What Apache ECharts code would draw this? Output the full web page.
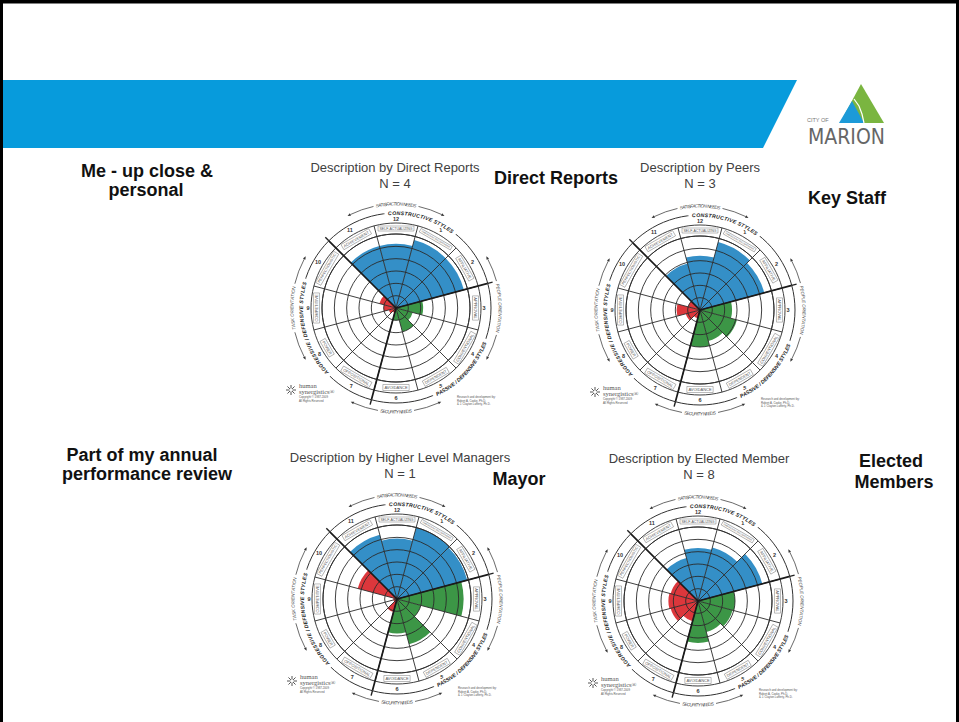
<!DOCTYPE html>
<html><head><meta charset="utf-8">
<script src="https://cdn.jsdelivr.net/npm/echarts@6/dist/echarts.min.js"></script>
<style>html,body{margin:0;padding:0;background:#fff}#c{width:959px;height:722px}</style>
</head><body><div id="c"></div>
<script>
// ---------- data ----------
const styleNumbers = ['12','1','2','3','4','5','6','7','8','9','10','11'];
const styleNames = ['SELF-ACTUALIZING','HUMANISTIC-ENCOURAGING','AFFILIATIVE','APPROVAL','CONVENTIONAL','DEPENDENT','AVOIDANCE','OPPOSITIONAL','POWER','COMPETITIVE','PERFECTIONISTIC','ACHIEVEMENT'];
const clusterNames = ['Constructive','Passive/Defensive','Aggressive/Defensive'];
const clusterLabels = ['CONSTRUCTIVE STYLES','PASSIVE / DEFENSIVE STYLES','AGGRESSIVE / DEFENSIVE STYLES'];
const needsLabels = ['SATISFACTION NEEDS','PEOPLE ORIENTATION','SECURITY NEEDS','TASK ORIENTATION'];
// values in ring units (0-6), ordered as styleNumbers
const directReports  = [5.2, 5.7, 5.7, 2.2, 1.4, 2.0, 1.0, 0.4, 0.6, 1.0, 1.4, 5.2];
const peers          = [4.4, 5.7, 5.4, 2.6, 3.1, 2.6, 3.0, 0.7, 1.2, 1.9, 1.0, 3.9];
const higherManagers = [4.9, 6.0, 5.9, 5.4, 2.0, 3.8, 2.8, 1.1, 0.3, 0.3, 3.3, 5.4];
const electedMembers = [4.3, 4.5, 5.4, 3.0, 2.9, 2.6, 3.4, 1.7, 2.3, 2.4, 2.3, 3.6];
const chartTitles = ['Description by Direct Reports','Description by Peers','Description by Higher Level Managers','Description by Elected Member'];
const chartN = ['N = 4','N = 3','N = 1','N = 8'];
const slideLabels = ['Me - up close &','personal','Direct Reports','Key Staff','Part of my annual','performance review','Mayor','Elected','Members'];

// ---------- layout / style ----------
const seriesValues = [directReports, peers, higherManagers, electedMembers];
const centers = [[396,308],[700,310],[397,599],[698,601]];
const titlePos = [[395,167],[700,167],[400,457],[699,458]];
const labelPos = [[147,171],[146,190],[556,178],[847,198],[142,455],[147,474],[519,479],[891,461],[894,482]];
const R_DATA = 74, R_LABEL = 85, R_OUT = 95;
const BLUE = '#348fc7', GREEN = '#3c9646', RED = '#dc373c';
const colorOf = i => (i <= 2 || i === 11) ? BLUE : (i <= 6 ? GREEN : RED);
const LINE = '#2a2a2a';

const mctx = document.createElement('canvas').getContext('2d');
function cssFont(f){ return (f.style||'normal')+' '+(f.weight||'normal')+' '+f.size+'px '+f.family; }
function curvedText(children, cx, cy, r, text, centerDeg, spanDeg, f, fill, inward){
  mctx.font = cssFont(f);
  const chars = [...text];
  const widths = chars.map(c => mctx.measureText(c).width);
  const total = widths.reduce((a,b)=>a+b,0);
  const scale = (spanDeg*Math.PI/180*r)/total;
  const totalAng = total*scale/r;
  let acc = 0;
  chars.forEach((c,i) => {
    const mid = acc + widths[i]*scale/2; acc += widths[i]*scale;
    const off = mid/r - totalAng/2;
    const th = centerDeg*Math.PI/180 + (inward ? -off : off);
    children.push({type:'text', x: cx + r*Math.sin(th), y: cy - r*Math.cos(th),
      rotation: inward ? Math.PI - th : -th, silent:true,
      style:{text:c, fontSize:f.size, fontWeight:f.weight||'normal', fontStyle:f.style||'normal', fontFamily:f.family, fill, align:'center', verticalAlign:'middle'}});
  });
}
function arcEl(cx, cy, r, d1, d2, stroke, lw){
  return {type:'arc', silent:true, shape:{cx, cy, r, startAngle:(d1-90)*Math.PI/180, endAngle:(d2-90)*Math.PI/180, clockwise:true},
    style:{stroke, lineWidth:lw, fill:null}};
}
function arrowHead(cx, cy, r, deg, dir){
  const th = deg*Math.PI/180;
  const px = cx + r*Math.sin(th), py = cy - r*Math.cos(th);
  const tx = Math.cos(th)*dir, ty = Math.sin(th)*dir;
  const nx = Math.sin(th), ny = -Math.cos(th);
  return {type:'polygon', silent:true, shape:{points:[[px+tx*3.2,py+ty*3.2],[px+nx*1.4,py+ny*1.4],[px-nx*1.4,py-ny*1.4]]}, style:{fill:'#333'}};
}
const clusterPlace = [{c:16, s:42, inward:false},{c:133, s:44, inward:true},{c:256, s:60, inward:false}];
const needsPlace = [{c:0, half:26, s:22, inward:false},{c:90, half:28, s:27, inward:false},{c:180, half:24, s:17, inward:true},{c:270, half:28, s:24, inward:false}];

function decoRender(params, api){
  const cs = params.coordSys; const cx = cs.cx, cy = cs.cy, R = cs.r;
  const ch = [];
  [-45, 75, 195].forEach(d => {
    const th = d*Math.PI/180;
    ch.push({type:'line', silent:true, shape:{x1:cx+R*Math.sin(th), y1:cy-R*Math.cos(th), x2:cx+(R+5)*Math.sin(th), y2:cy-(R+5)*Math.cos(th)}, style:{stroke:'#222', lineWidth:1.4}});
  });
  const cf = {size:5.2, weight:'bold', style:'italic', family:'"Liberation Sans"'};
  clusterPlace.forEach((p,i) => {
    ch.push(arcEl(cx, cy, R, p.c - p.s/2 - 2, p.c + p.s/2 + 2, '#fff', 7));
    curvedText(ch, cx, cy, R, clusterLabels[i], p.c, p.s, cf, '#222', p.inward);
  });
  const nf = {size:4.6, weight:'normal', style:'italic', family:'"Liberation Sans"'};
  const rn = R + 9;
  needsPlace.forEach((p,i) => {
    const g = p.s/2 + 1.5;
    ch.push(arcEl(cx, cy, rn, p.c - p.half, p.c - g, '#444', 0.8));
    ch.push(arcEl(cx, cy, rn, p.c + g, p.c + p.half, '#444', 0.8));
    ch.push(arrowHead(cx, cy, rn, p.c - p.half, -1));
    ch.push(arrowHead(cx, cy, rn, p.c + p.half, 1));
    curvedText(ch, cx, cy, rn, needsLabels[i], p.c, p.s, nf, '#444', p.inward);
  });
  const sx = cx - 105, sy = cy + 82;
  for (let a = 0; a < 8; a++) {
    const t = a*Math.PI/4;
    ch.push({type:'line', silent:true, shape:{x1:sx+1.5*Math.cos(t), y1:sy+1.5*Math.sin(t), x2:sx+5*Math.cos(t), y2:sy+5*Math.sin(t)}, style:{stroke:'#555', lineWidth:1}});
  }
  const small = (x,y,t,s,fam) => ch.push({type:'text', silent:true, x, y, style:{text:t, fontSize:s, fontFamily:fam||'"Liberation Sans"', fill:'#555', align:'left', verticalAlign:'middle'}});
  small(cx-97, cy+77, 'human', 6.5, '"Liberation Serif"');
  small(cx-97, cy+83, 'synergistics\u00ae', 6.5, '"Liberation Serif"');
  small(cx-97, cy+89, 'Copyright \u00a9 1987-2009', 2.8);
  small(cx-97, cy+92.5, 'All Rights Reserved', 2.8);
  small(cx+61, cy+89, 'Research and development by:', 2.8);
  small(cx+61, cy+92.5, 'Robert A. Cooke, Ph.D.', 2.8);
  small(cx+61, cy+96, '& J. Clayton Lafferty, Ph.D.', 2.8);
  return {type:'group', children: ch};
}

function labelRender(params, api){
  const idx = api.value(1);
  const pt = api.coord([0.5, idx]);
  const cs = params.coordSys;
  const th = Math.atan2(pt[0]-cs.cx, -(pt[1]-cs.cy));
  const rot = Math.cos(th) < -0.01 ? Math.PI - th : -th;
  const name = styleNames[idx];
  mctx.font = '1px "Liberation Sans"';
  const w1 = mctx.measureText(name).width;
  const fs = Math.min(4.0, 33 / w1);
  return {type:'text', x:pt[0], y:pt[1], rotation:rot, silent:true,
    style:{text:name, fontSize:fs, fontFamily:'"Liberation Sans"', fill:'#555', align:'center', verticalAlign:'middle',
      borderColor:'#777', borderWidth:0.5, padding:[1,1.5]}};
}

const polar = [], angleAxis = [], radiusAxis = [], series = [];
const hidden = {axisLine:{show:false}, axisTick:{show:false}, axisLabel:{show:false}};
centers.forEach((c,k) => {
  const p0 = k*3, p1 = k*3+1, p2 = k*3+2;
  polar.push({center:c, radius:[0, R_DATA]});
  polar.push({center:c, radius:[R_DATA, R_LABEL]});
  polar.push({center:c, radius:[0, R_OUT]});
  angleAxis.push(Object.assign({polarIndex:p0, type:'category', data:styleNumbers, startAngle:105, clockwise:true, boundaryGap:true, z:3,
    splitLine:{show:true, lineStyle:{color:LINE, width:0.9}}}, hidden));
  radiusAxis.push(Object.assign({polarIndex:p0, type:'value', min:0, max:6, interval:1, z:3,
    splitLine:{show:true, lineStyle:{color:LINE, width:0.9}}}, hidden));
  angleAxis.push({polarIndex:p1, type:'category', data:styleNumbers, startAngle:105, clockwise:true, boundaryGap:true, z:3,
    axisLine:{show:true, lineStyle:{color:LINE, width:0.9}}, axisTick:{show:false},
    axisLabel:{show:true, margin:1.5, fontSize:5.5, fontWeight:'bold', color:'#333', fontFamily:'Liberation Sans'},
    splitLine:{show:true, lineStyle:{color:LINE, width:0.9}}});
  radiusAxis.push(Object.assign({polarIndex:p1, type:'value', min:0, max:1, splitLine:{show:false}}, hidden));
  angleAxis.push({polarIndex:p2, type:'category', data:clusterNames, startAngle:135, clockwise:true, boundaryGap:true, z:3,
    axisLine:{show:true, lineStyle:{color:'#333', width:1}}, axisTick:{show:false}, axisLabel:{show:false},
    splitLine:{show:true, lineStyle:{color:'#1a1a1a', width:1.7}}});
  radiusAxis.push(Object.assign({polarIndex:p2, type:'value', min:0, max:1, splitLine:{show:false}}, hidden));
  series.push({type:'bar', coordinateSystem:'polar', polarIndex:p0, barCategoryGap:'0%', z:2, silent:true,
    data: seriesValues[k].map((v,i) => ({value:v, itemStyle:{color:colorOf(i)}}))});
  series.push({type:'custom', coordinateSystem:'polar', polarIndex:p1, z:4, silent:true,
    data: styleNames.map((n,i) => [0.5, i]), renderItem: labelRender});
  series.push({type:'custom', coordinateSystem:'polar', polarIndex:p2, z:4, silent:true,
    data: [[0, 0]], renderItem: decoRender});
});

const graphic = [];
graphic.push({type:'rect', shape:{x:0,y:0,width:959,height:3.5}, style:{fill:'#000'}});
graphic.push({type:'rect', shape:{x:0,y:0,width:3,height:722}, style:{fill:'#000'}});
graphic.push({type:'rect', shape:{x:956,y:0,width:3,height:722}, style:{fill:'#000'}});
graphic.push({type:'polygon', shape:{points:[[3,80],[797,80],[763,148],[3,148]]}, style:{fill:'#079bdc'}});
graphic.push({type:'polygon', shape:{points:[[861,84],[884,123],[840,123]]}, style:{fill:'#7ab540'}});
graphic.push({type:'polygon', shape:{points:[[852,101],[839,123],[864,123]]}, style:{fill:'#1c9ad8'}});
graphic.push({type:'polyline', shape:{points:[[854,99],[859,106],[862,114],[864,123]]}, style:{stroke:'#fff', lineWidth:1.2, fill:null}});
graphic.push({type:'text', x:807, y:120, style:{text:'CITY OF', font:'5.5px "Liberation Sans"', fill:'#777', align:'left', verticalAlign:'middle'}});
graphic.push({type:'text', x:808, y:136.5, style:{text:'MARION', font:'21px "DejaVu Sans Condensed", "Liberation Sans"', fill:'#666', align:'left', verticalAlign:'middle'}});
slideLabels.forEach((t,i) => graphic.push({type:'text', x:labelPos[i][0], y:labelPos[i][1],
  style:{text:t, font:'bold 18px "Liberation Sans"', fill:'#111', align:'center', verticalAlign:'middle'}}));
chartTitles.forEach((t,i) => {
  graphic.push({type:'text', x:titlePos[i][0], y:titlePos[i][1], style:{text:t, font:'13px "Liberation Sans"', fill:'#404040', align:'center', verticalAlign:'middle'}});
  graphic.push({type:'text', x:titlePos[i][0], y:titlePos[i][1]+16, style:{text:chartN[i], font:'13px "Liberation Sans"', fill:'#404040', align:'center', verticalAlign:'middle'}});
});

const chart = echarts.init(document.getElementById('c'), null, {renderer:'svg'});
chart.setOption({animation:false, backgroundColor:'#fff', polar, angleAxis, radiusAxis, series, graphic});
</script></body></html>
